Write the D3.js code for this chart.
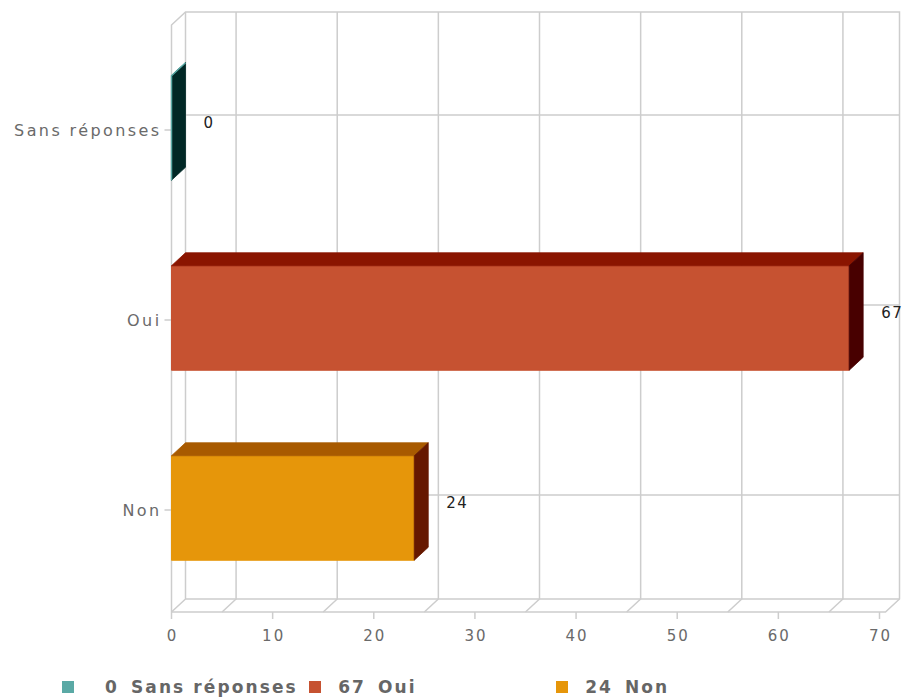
<!DOCTYPE html>
<html>
<head>
<meta charset="utf-8">
<script src="https://cdn.jsdelivr.net/npm/d3@7"></script>
<style>
  html, body { margin: 0; padding: 0; background: #fff; }
  svg { display: block; }
</style>
</head>
<body>
<script>
// Answers and their counts
const categories = ["Sans réponses", "Oui", "Non"];
const values = [0, 67, 24];

// Value axis ticks
const xTicks = [0, 10, 20, 30, 40, 50, 60, 70];

// Face colours per bar: front, top, side; legend swatches use the front colour
const frontColors = ["#5aa9a5", "#c65231", "#e6960a"];
const topColors = ["#0a3a38", "#8a1500", "#a85a00"];
const sideColors = ["#012826", "#480000", "#661800"];

const W = 906, H = 699;
const depthX = 14, depthY = 13;          // 3D offset of the back wall
const floorY = 612, frontTop = 25;       // front plane of the plot

const svg = d3.select("body").append("svg")
  .attr("width", W).attr("height", H);

const x = d3.scaleLinear().domain([0, 70]).range([171.5, 879.5]);
const y = d3.scaleBand().domain(categories)
  .range([33, 603]).paddingInner(0.45).paddingOuter(0.225);

const xLeft = x(0), xRight = x(70) + 6;
const gridColor = "#cdcdcd";
const grid = svg.append("g")
  .attr("fill", "none").attr("stroke", gridColor).attr("stroke-width", 1.5);

// back wall outline
grid.append("path").attr("d",
  `M${xLeft},${floorY} L${xLeft},${frontTop} L${xLeft + depthX},${frontTop - depthY}` +
  ` L${xRight + depthX},${frontTop - depthY} L${xRight + depthX},${floorY - depthY}` +
  ` L${xRight},${floorY} L${xLeft},${floorY}`);
grid.append("path").attr("d",
  `M${xLeft + depthX},${frontTop - depthY} L${xLeft + depthX},${floorY - depthY}` +
  ` L${xRight + depthX},${floorY - depthY}` +
  ` M${xLeft},${floorY} L${xLeft + depthX},${floorY - depthY}`);

// vertical grid on the back wall and floor, half a step between ticks
const gridValues = xTicks.slice(0, -1).map((t, i) => (t + xTicks[i + 1]) / 2);
grid.selectAll("path.v").data(gridValues).join("path").attr("class", "v")
  .attr("d", v => `M${x(v)},${floorY} L${x(v) + depthX},${floorY - depthY} L${x(v) + depthX},${frontTop - depthY}`);

// horizontal grid on the back wall, one per category
grid.selectAll("line.h").data(categories).join("line").attr("class", "h")
  .attr("x1", xLeft + depthX).attr("x2", xRight + depthX)
  .attr("y1", c => y(c) + y.bandwidth() / 2 - depthY)
  .attr("y2", c => y(c) + y.bandwidth() / 2 - depthY);

// value axis ticks and labels
const xAxis = svg.append("g");
xAxis.selectAll("line").data(xTicks).join("line")
  .attr("x1", d => x(d)).attr("x2", d => x(d))
  .attr("y1", floorY).attr("y2", floorY + 7)
  .attr("stroke", gridColor).attr("stroke-width", 1.5);
xAxis.selectAll("text").data(xTicks).join("text")
  .attr("x", d => x(d) + 1).attr("y", floorY + 24)
  .attr("dy", "0.35em").attr("text-anchor", "middle")
  .attr("font-family", "DejaVu Sans, Verdana, sans-serif")
  .attr("font-size", 15).attr("letter-spacing", 2)
  .attr("fill", "#6a6a6a")
  .text(d => d);

// category axis ticks and labels
const yAxis = svg.append("g");
yAxis.selectAll("line").data(categories).join("line")
  .attr("x1", xLeft - 7).attr("x2", xLeft)
  .attr("y1", c => y(c) + y.bandwidth() / 2 + 2)
  .attr("y2", c => y(c) + y.bandwidth() / 2 + 2)
  .attr("stroke", gridColor).attr("stroke-width", 1.5);
yAxis.selectAll("text").data(categories).join("text")
  .attr("x", xLeft - 10).attr("y", c => y(c) + y.bandwidth() / 2 + 2)
  .attr("dy", "0.35em").attr("text-anchor", "end")
  .attr("font-family", "DejaVu Sans, Verdana, sans-serif")
  .attr("font-size", 16).attr("letter-spacing", 2.4)
  .attr("fill", "#6a6a6a")
  .text(c => c);

// 3D bars
const rows = categories.map((c, i) => ({ c, v: values[i], i }));
const bars = svg.append("g").selectAll("g").data(rows).join("g");

bars.append("path") // front face
  .attr("d", d => {
    const x0 = x(0), x1 = x(d.v), y0 = y(d.c), y1 = y0 + y.bandwidth();
    return `M${x0},${y0} L${x1},${y0} L${x1},${y1} L${x0},${y1} Z`;
  })
  .attr("fill", d => frontColors[d.i]).attr("stroke", d => frontColors[d.i]);

bars.append("path") // top face
  .attr("d", d => {
    const x0 = x(0), x1 = x(d.v), y0 = y(d.c);
    return `M${x0},${y0} L${x1},${y0} L${x1 + depthX},${y0 - depthY} L${x0 + depthX},${y0 - depthY} Z`;
  })
  .attr("fill", d => topColors[d.i]).attr("stroke", d => topColors[d.i]).attr("stroke-width", 0.8);

bars.append("path") // side face
  .attr("d", d => {
    const x1 = x(d.v), y0 = y(d.c), y1 = y0 + y.bandwidth();
    return `M${x1},${y0} L${x1 + depthX},${y0 - depthY} L${x1 + depthX},${y1 - depthY} L${x1},${y1} Z`;
  })
  .attr("fill", d => sideColors[d.i]).attr("stroke", d => sideColors[d.i]).attr("stroke-width", 0.8);

// edge highlight on the empty bar so its front stays visible
bars.filter(d => d.v === 0).append("path")
  .attr("d", d => {
    const x0 = x(0), y0 = y(d.c), y1 = y0 + y.bandwidth();
    return `M${x0},${y1} L${x0},${y0} L${x0 + depthX},${y0 - depthY}`;
  })
  .attr("fill", "none").attr("stroke", d => frontColors[d.i]).attr("stroke-width", 1.5);

// value labels
bars.append("text")
  .attr("x", d => x(d.v) + depthX + 18)
  .attr("y", d => y(d.c) + y.bandwidth() / 2 - 5)
  .attr("dy", "0.35em")
  .attr("font-family", "DejaVu Sans, Verdana, sans-serif")
  .attr("font-size", 15).attr("letter-spacing", 1.5)
  .attr("fill", "#222")
  .text(d => d.v);

// legend
const legend = svg.append("g").attr("font-family", "DejaVu Sans, Verdana, sans-serif")
  .attr("font-weight", "bold").attr("font-size", 17).attr("fill", "#666");
const item = legend.selectAll("g").data(rows).join("g")
  .attr("transform", d => `translate(${62 + d.i * 247},681)`);
item.append("rect").attr("width", 12).attr("height", 12)
  .attr("fill", d => frontColors[d.i]);
item.append("text").attr("x", 57).attr("y", 6).attr("dy", "0.36em")
  .attr("text-anchor", "end").attr("letter-spacing", 2.1)
  .text(d => d.v);
item.append("text").attr("x", 69).attr("y", 6).attr("dy", "0.36em")
  .attr("letter-spacing", 2.1)
  .text(d => d.c);
</script>
</body>
</html>
